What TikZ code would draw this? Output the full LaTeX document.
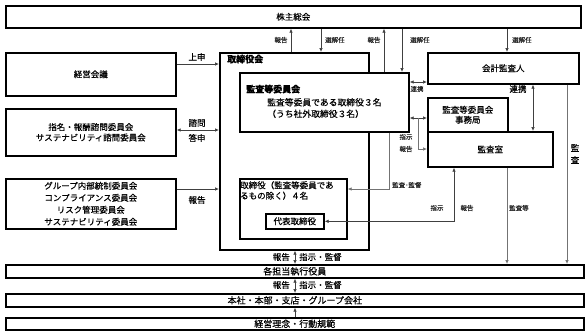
\documentclass[tikz,border=0pt]{standalone}
\usepackage{fontspec}
\setmainfont{Noto Sans CJK JP}[FakeBold=0.4]
\usetikzlibrary{arrows.meta,calc}
\begin{document}
\begin{tikzpicture}[x=1pt,y=-1pt,
  box/.style={draw, line width=1.6pt, fill=white, inner sep=0pt, anchor=north west,
    font=\fontsize{8.5}{11}\selectfont, align=center},
  lbl/.style={font=\fontsize{6.5}{7}\selectfont, inner sep=0pt, text=black!85},
  mlbl/.style={font=\fontsize{8.5}{10}\selectfont, inner sep=0pt},
  conn/.style={line width=0.7pt, draw=black!75},
  arr/.style={conn, -{Latex[length=4pt,width=3.5pt]}},
  darr/.style={conn, {Latex[length=4pt,width=3.5pt]}-{Latex[length=4pt,width=3.5pt]}},
  gline/.style={line width=0.7pt, draw=black!55, -{Latex[length=4pt,width=3.5pt]}}
]
\useasboundingbox (0,0) rectangle (588,333);

% top and bottom bars
\node[box, minimum width=575pt, minimum height=22pt] (sh) at (5,5) {株主総会};
\node[box, minimum width=578pt, minimum height=13pt, font=\fontsize{9}{10}\selectfont] (bar1) at (5,264) {各担当執行役員};
\node[box, minimum width=578pt, minimum height=13pt, font=\fontsize{9}{10}\selectfont] (bar2) at (5,293) {本社・本部・支店・グループ会社};
\node[box, minimum width=578pt, minimum height=12pt, font=\fontsize{9}{10}\selectfont] (bar3) at (5,317) {経営理念・行動規範};

% left boxes
\node[box, minimum width=170pt, minimum height=43pt] (keiei) at (5,52) {経営会議};
\node[box, minimum width=170pt, minimum height=47pt, font=\fontsize{8.5}{10.5}\selectfont] (shimei) at (5,108) {指名・報酬諮問委員会\\サステナビリティ諮問委員会};
\node[box, minimum width=170pt, minimum height=50pt, font=\fontsize{8.5}{12}\selectfont] (group) at (5,178) {グループ内部統制委員会\\コンプライアンス委員会\\リスク管理委員会\\サステナビリティ委員会};

% board
\node[box, minimum width=149pt, minimum height=197pt] (tk) at (219,52) {};
\node[anchor=west, inner sep=0pt, font=\fontsize{9}{10}\selectfont\bfseries] (tkl) at (227,59) {取締役会};

% audit committee
\node[box, minimum width=169pt, minimum height=59pt] (kansa) at (239,72) {};
\node[anchor=west, inner sep=0pt, font=\fontsize{9}{10}\selectfont\bfseries] (kansal) at (246,89) {監査等委員会};
\node[anchor=north west, inner sep=0pt, align=left, font=\fontsize{8.8}{11.5}\selectfont] (kansat) at (267,98) {監査等委員である取締役３名\\（うち社外取締役３名）};

% right boxes
\node[box, minimum width=151pt, minimum height=31pt] (kaikei) at (427,52) {会計監査人};
\node[box, minimum width=80pt, minimum height=34pt, font=\fontsize{8.5}{10}\selectfont] (jimu) at (427,97) {監査等委員会\\事務局};
\node[box, minimum width=125pt, minimum height=35pt] (shitsu) at (427,131) {監査室};

% directors box
\node[box, minimum width=107pt, minimum height=60pt] (tori) at (239,178) {};
\node[anchor=north west, inner sep=0pt, align=left, font=\fontsize{8.5}{10.5}\selectfont] (torit) at (240,181) {取締役（監査等委員であ\\るもの除く）４名};
\node[box, minimum width=58pt, minimum height=15pt] (daihyo) at (265,213) {代表取締役};

% top arrows
\draw[arr] (291,0 |- tk.north) -- (291,0 |- sh.south);
\node[lbl] (l1) at (281,40) {報告};
\draw[arr] (321,0 |- sh.south) -- (321,0 |- tk.north);
\node[lbl, anchor=west] (l2) at (325,40) {選解任};
\draw[arr] (384,0 |- kansa.north) -- (384,0 |- sh.south);
\node[lbl] (l3) at (374,40) {報告};
\draw[arr] (402,0 |- sh.south) -- (402,0 |- kansa.north);
\node[lbl, anchor=west] (l4) at (410,40) {選解任};
\draw[arr] (507,0 |- sh.south) -- (507,0 |- kaikei.north);
\node[lbl, anchor=west] (l5) at (512,40) {選解任};

% left arrows
\draw[arr] (keiei.east |- 0,64) -- (tk.west |- 0,64);
\node[mlbl] (l6) at (197,57) {上申};
\draw[darr] (shimei.east |- 0,130) -- (tk.west |- 0,130);
\node[mlbl] (l7) at (197,123) {諮問};
\node[mlbl] (l8) at (197,138) {答申};
\draw[arr] (group.east |- 0,189) -- (tk.west |- 0,189);
\node[mlbl] (l9) at (197,200) {報告};

% links with accounting auditor
\draw[darr] (kansa.east |- 0,82) -- (kaikei.west |- 0,82);
\node[lbl] (l10) at (417,89) {連携};
\draw[darr] (533,0 |- kaikei.south) -- (533,0 |- shitsu.north);
\node[mlbl] (l11) at (518,89) {連携};

% instructions to office / audit dept
\draw[darr] (kansa.east |- 0,118) -- (jimu.west |- 0,118);
\coordinate (br) at (418,118);
\draw[arr, draw=black!55] (br) -- (418,149) -- (shitsu.west |- 0,149);
\node[lbl] (l12) at (406,137) {指示};
\node[lbl] (l13) at (406,149) {報告};

% long audit lines
\draw[gline] (567,0 |- kaikei.south) -- (567,0 |- bar1.north);
\node[mlbl, align=center, font=\fontsize{8.5}{12}\selectfont] (l14) at (575,154) {監\\査};
\draw[gline] (507,0 |- shitsu.south) -- (507,0 |- bar1.north);
\node[lbl, anchor=west] (l15) at (509,208) {監査等};

% audit / supervision
\draw[gline] (389,0 |- kansa.south) -- (389,189) -- (tori.east |- 0,189);
\node[lbl, anchor=west] (l16) at (392,185) {監査･監督};

% audit dept <-> representative director
\draw[conn, {Latex[length=4pt,width=3.5pt]}-{Latex[length=4pt,width=3.5pt]}] (daihyo.east) -- (454,0 |- daihyo.east) -- (454,0 |- shitsu.south);
\node[lbl] (l17) at (437,208) {指示};
\node[lbl] (l18) at (467,208) {報告};

% bottom arrows
\draw[darr] (295,0 |- tk.south) -- (295,0 |- bar1.north);
\node[mlbl, anchor=east] (l19) at (290,257) {報告};
\node[mlbl, anchor=west] (l20) at (299,257) {指示・監督};
\draw[darr] (295,0 |- bar1.south) -- (295,0 |- bar2.north);
\node[mlbl, anchor=east] (l21) at (290,285) {報告};
\node[mlbl, anchor=west] (l22) at (299,285) {指示・監督};
\draw[arr] (295,0 |- bar3.north) -- (295,0 |- bar2.south);
\end{tikzpicture}
\end{document}
